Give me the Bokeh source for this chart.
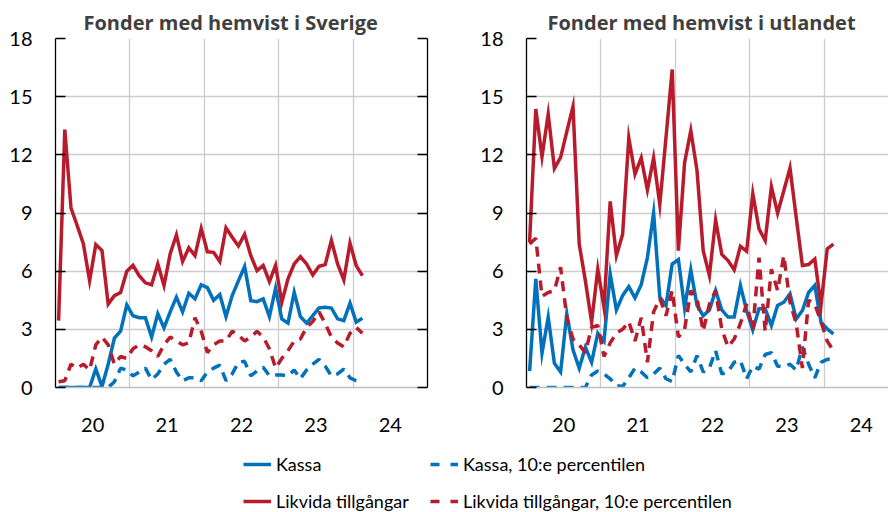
import pandas as pd
from bokeh.plotting import figure
from bokeh.layouts import column, row
from bokeh.models import Range1d, FixedTicker, LinearAxis, Legend, LegendItem
from bokeh.embed import file_html
from bokeh.resources import INLINE

# ---- data (percent), monthly from Jan 2020 ----
months = pd.date_range("2020-01-01", periods=50, freq="MS")
x = list(months.year + (months.month - 0.5) / 12)

year_ticks = [2020.5, 2021.5, 2022.5, 2023.5, 2024.5]
year_labels = ["20", "21", "22", "23", "24"]
y_ticks = [0, 3, 6, 9, 12, 15, 18]

se_kassa = [0, 0, 0, 0, 0, 0, 0.96, 0.05, 1.2, 2.55, 2.9, 4.26, 3.7, 3.6, 3.6, 2.6,
            3.8, 3.07, 3.9, 4.66, 3.9, 4.86, 4.57, 5.3, 5.15, 4.5, 4.8, 3.65, 4.74, 5.5,
            6.24, 4.48, 4.43, 4.57, 3.66, 5.12, 3.54, 3.32, 4.91, 3.66, 3.32, 3.71, 4.1,
            4.14, 4.1, 3.54, 3.45, 4.35, 3.37, 3.57]
se_likv = [3.45, 13.3, 9.26, 8.35, 7.4, 5.5, 7.37, 7.06, 4.3, 4.74, 4.9, 6.0, 6.3, 5.77,
           5.4, 5.3, 6.37, 5.26, 6.9, 7.87, 6.5, 7.2, 6.8, 8.2, 7.0, 6.97, 6.5, 8.23, 7.75,
           7.3, 7.9, 6.8, 6.03, 6.3, 5.46, 6.3, 4.4, 5.6, 6.37, 6.75, 6.37, 5.8, 6.25, 6.34,
           7.58, 6.37, 5.55, 7.44, 6.29, 5.77]
se_kassa_p10 = [0, 0, 0, 0, 0, 0, 0, 0, 0, 0.3, 1.0, 0.9, 0.6, 0.8, 1.0, 0.4, 0.7, 1.2,
                1.45, 0.8, 0.35, 0.5, 0.5, 0.35, 0.8, 1.0, 1.15, 0.35, 0.7, 1.3, 1.35, 0.6,
                0.85, 1.05, 0.6, 0.65, 0.65, 0.6, 0.9, 0.45, 0.9, 1.2, 1.45, 1.1, 0.6, 0.7,
                0.95, 0.5, 0.35, 0.3]
se_likv_p10 = [0.3, 0.35, 1.2, 1.0, 1.2, 0.9, 2.2, 2.6, 2.2, 1.2, 1.6, 1.5, 2.0, 2.2, 2.1,
               1.9, 1.6, 2.2, 2.6, 2.4, 2.2, 2.3, 3.6, 2.9, 1.8, 2.2, 2.4, 2.4, 2.9, 2.7,
               2.4, 2.6, 2.9, 2.6, 2.0, 1.0, 1.5, 1.9, 2.4, 2.5, 3.1, 3.4, 3.9, 3.3, 2.6,
               2.3, 2.1, 2.8, 3.1, 2.8]

ut_kassa = [0.84, 5.6, 1.77, 3.63, 1.25, 0.8, 3.8, 1.94, 1.0, 2.08, 1.3, 2.8, 2.39, 5.86,
            4.0, 4.74, 5.2, 4.62, 5.3, 6.7, 9.0, 4.66, 4.23, 6.37, 6.6, 4.1, 6.07, 4.23,
            3.7, 4.0, 5.0, 4.0, 3.63, 3.63, 5.26, 3.97, 2.97, 4.06, 4.06, 3.2, 4.23, 4.4,
            4.83, 3.54, 3.97, 4.9, 5.26, 3.37, 3.02, 2.77]
ut_likv = [7.5, 14.36, 11.9, 14.1, 11.3, 11.87, 13.2, 14.5, 7.4, 5.5, 3.37, 6.1, 4.14, 9.6,
           6.8, 7.9, 12.87, 11.0, 11.84, 10.2, 11.84, 9.43, 12.9, 16.4, 7.06, 11.6, 13.25,
           11.2, 7.06, 5.77, 8.64, 6.86, 6.55, 6.07, 7.28, 7.03, 10.0, 8.18, 7.58, 10.36,
           8.99, 10.15, 11.32, 8.78, 6.29, 6.34, 6.63, 4.23, 7.15, 7.4]
ut_kassa_p10 = [0, 0, 0, 0, 0, 0, 0, 0, 0, 0, 0.65, 0.85, 0.7, 0.45, 0.1, 0.05, 0.5, 1.0,
                0.8, 0.5, 0.7, 1.0, 0.45, 0.3, 1.65, 1.2, 0.8, 1.65, 0.8, 1.0, 1.9, 0.7,
                0.8, 1.3, 1.4, 0.45, 1.1, 0.95, 1.7, 1.8, 1.1, 1.1, 1.2, 0.9, 2.1, 1.2,
                0.5, 1.3, 1.45, 1.5]
ut_likv_p10 = [7.4, 7.7, 4.7, 4.9, 5.0, 6.2, 3.6, 2.5, 2.2, 1.8, 3.1, 3.2, 1.6, 2.3, 2.8,
               3.0, 3.4, 2.4, 3.6, 1.3, 3.9, 4.6, 3.7, 5.0, 2.6, 3.0, 5.0, 4.6, 2.9, 4.3,
               5.0, 3.0, 2.1, 2.5, 3.3, 4.3, 3.0, 6.7, 2.9, 6.1, 5.0, 6.8, 4.4, 3.3, 1.0,
               4.5, 4.3, 3.4, 2.4, 1.9]

BLUE = "#0071BA"
RED = "#B81C2C"
FONT = "Lato"
DASH = "10 7"
PX_PER_YEAR = 74.4


def panel(title, x_end, width, mbl, mbr, right_axis, title_offset, kassa, likv, kassa10, likv10):
    p = figure(width=width, height=440, x_range=Range1d(2020, x_end), y_range=Range1d(0, 18),
               output_backend="svg", toolbar_location=None,
               min_border_left=mbl, min_border_right=mbr, min_border_top=38,
               min_border_bottom=53)
    p.outline_line_color = None
    p.background_fill_color = "white"
    p.border_fill_color = "white"

    p.title.text = title
    p.title.align = "left"
    p.title.offset = title_offset
    p.title.text_font = "Open Sans"
    p.title.text_font_style = "bold"
    p.title.text_font_size = "20px"
    p.title.text_color = "#404040"
    p.title.standoff = 6

    xa = p.xaxis[0]
    xa.ticker = FixedTicker(ticks=year_ticks)
    xa.major_label_overrides = {t: l for t, l in zip(year_ticks, year_labels)}
    xa.major_tick_line_color = None
    xa.minor_tick_line_color = None
    xa.axis_line_color = "#bfbfbf"
    xa.axis_line_width = 1.3
    xa.major_label_standoff = 24
    xa.major_label_text_font = FONT
    xa.major_label_text_font_size = "20px"
    xa.major_label_text_color = "black"

    ya = p.yaxis[0]
    ya.ticker = FixedTicker(ticks=y_ticks)
    ya.major_tick_in = 10
    ya.major_tick_out = 0
    ya.minor_tick_line_color = None
    ya.axis_line_color = "black"
    ya.axis_line_width = 1.3
    ya.major_tick_line_color = "black"
    ya.major_tick_line_width = 1.3
    ya.major_label_standoff = 23
    ya.major_label_text_font = FONT
    ya.major_label_text_font_size = "20px"
    ya.major_label_text_color = "black"

    if right_axis:
        ra = LinearAxis(ticker=FixedTicker(ticks=y_ticks), major_tick_in=10, major_tick_out=0,
                        minor_tick_line_color=None, axis_line_color="black", axis_line_width=1.3,
                        major_tick_line_color="black", major_tick_line_width=1.3,
                        major_label_text_font_size="0px", major_label_text_color=None,
                        major_label_standoff=0)
        p.add_layout(ra, "right")

    p.xgrid.ticker = FixedTicker(ticks=[2021, 2022, 2023, 2024])
    p.xgrid.grid_line_color = "#cccccc"
    p.xgrid.grid_line_width = 1.3
    p.ygrid.ticker = FixedTicker(ticks=y_ticks)
    p.ygrid.grid_line_color = "#cccccc"
    p.ygrid.grid_line_width = 1.3

    p.line(x, kassa, line_color=BLUE, line_width=3.5, line_join="miter")
    p.line(x, likv, line_color=RED, line_width=3.5, line_join="miter")
    p.line(x, kassa10, line_color=BLUE, line_width=3.5, line_dash=DASH)
    p.line(x, likv10, line_color=RED, line_width=3.5, line_dash=DASH)
    return p


# left panel: frame 55..427 px (5 years), right border holds the inner-tick axis
p1 = panel("Fonder med hemvist i Sverige", 2025, 451, 55, 24, True, 28,
           se_kassa, se_likv, se_kassa_p10, se_likv_p10)
# right panel: frame from 526 px to the page edge (cut off as in the original)
p2 = panel("Fonder med hemvist i utlandet", 2020 + 362 / PX_PER_YEAR, 437, 75, 0, False, 21,
           ut_kassa, ut_likv, ut_kassa_p10, ut_likv_p10)

# ---- legend strip ----
pl = figure(width=888, height=72, x_range=Range1d(0, 1), y_range=Range1d(0, 1),
            x_axis_type=None, y_axis_type=None, output_backend="svg",
            toolbar_location=None, min_border=0)
pl.outline_line_color = None
pl.grid.visible = False
off = [-10, -9]
r_k = pl.line(off, off, line_color=BLUE, line_width=3.5)
r_l = pl.line(off, off, line_color=RED, line_width=3.5)
r_k10 = pl.line(off, off, line_color=BLUE, line_width=3.5, line_dash="9 11")
r_l10 = pl.line(off, off, line_color=RED, line_width=3.5, line_dash="9 11")


def make_legend(items, xloc):
    return Legend(items=items, location=(xloc, 0), orientation="vertical",
                  border_line_color=None, background_fill_alpha=0, padding=0, margin=0,
                  spacing=15, label_height=20, glyph_height=20, glyph_width=28,
                  label_standoff=5, label_text_font=FONT, label_text_font_size="18px",
                  label_text_color="black")


pl.add_layout(make_legend([LegendItem(label="Kassa", renderers=[r_k]),
                           LegendItem(label="Likvida tillgångar", renderers=[r_l])], 243))
pl.add_layout(make_legend([LegendItem(label="Kassa, 10:e percentilen", renderers=[r_k10]),
                           LegendItem(label="Likvida tillgångar, 10:e percentilen",
                                      renderers=[r_l10])], 430))

layout = column(row(p1, p2), pl)
open("out.html", "w").write(file_html(layout, INLINE))
